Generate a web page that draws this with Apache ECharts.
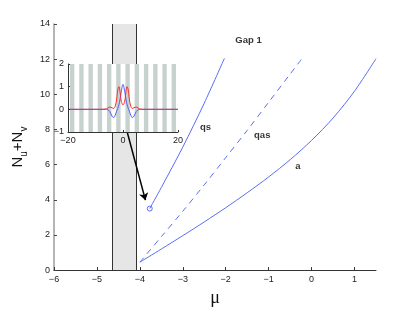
<!DOCTYPE html>
<html>
<head>
<meta charset="utf-8">
<script src="https://cdn.jsdelivr.net/npm/echarts@6/dist/echarts.min.js"></script>
<style>html,body{margin:0;padding:0;background:#fff}#c{width:415px;height:312px}</style>
</head>
<body>
<div id="c"></div>
<script>
// ---- data ----
const xTicks = [-6, -5, -4, -3, -2, -1, 0, 1];
const yTicks = [0, 2, 4, 6, 8, 10, 12, 14];
const qsX = [-3.77, -3.5, -3.0, -2.5, -2.03];
const qsY = [3.5, 4.7, 7.0, 9.5, 12.05];
const qasX = [-4.0, -3.5, -3.0, -2.5, -2.0, -1.5, -1.0, -0.5, -0.22];
const qasY = [0.45, 1.9, 3.35, 4.85, 6.4, 7.95, 9.55, 11.15, 12.05];
const aX = [-4.0, -3.5, -3.0, -2.5, -2.0, -1.5, -1.0, -0.5, 0, 0.5, 1.0, 1.5];
const aY = [0.45, 1.2, 1.96, 2.74, 3.55, 4.4, 5.3, 6.28, 7.38, 8.65, 10.18, 12.03];
const gapBand = [-4.65, -4.08];
const arrowFrom = [-4.3, 7.9];
const arrowTo = [-3.87, 3.98];
const noteText = ['Gap 1', 'qs', 'qas', 'a'];
const noteX = [-1.47, -2.47, -1.15, -0.32];
const noteY = [13.06, 8.13, 7.68, 5.92];
// inset
const insetXTicks = [-20, 0, 20];
const insetYTicks = [-1, 0, 1, 2];
const insetX = [-20, -8, -6.5, -5.5, -4.8, -4, -3.4, -2.8, -2.3, -1.9, -1.5, -1.1, -0.6, 0, 0.6, 1.1, 1.5, 1.9, 2.3, 2.8, 3.4, 4, 4.8, 5.5, 6.5, 8, 20];
const insetRed = [0, 0, 0.01, 0.06, 0.1, 0.07, 0.04, 0.15, 0.45, 0.85, 1.0, 0.8, 0.35, 0.2, 0.35, 0.8, 1.0, 0.85, 0.45, 0.15, 0.04, 0.07, 0.1, 0.06, 0.01, 0, 0];
const insetBlue = [0, 0, 0, -0.02, -0.1, -0.3, -0.36, -0.25, -0.08, 0.05, 0.2, 0.42, 0.8, 1.1, 0.8, 0.42, 0.2, 0.05, -0.08, -0.25, -0.36, -0.3, -0.1, -0.02, 0, 0, 0];
const stripeCenters = [-18.48, -15.12, -11.76, -8.4, -5.04, -1.68, 1.68, 5.04, 8.4, 11.76, 15.12, 18.48];

// ---- chart ----
const stripeHalf = 0.8;
const BLUE = '#5a6ef5';
const minus = v => String(v).replace('-', '\u2212');
const pairs = (xs, ys) => xs.map((x, i) => [x, ys[i]]);
const tickFont = {fontFamily: 'Liberation Sans', fontSize: 9, color: '#222'};

const chart = echarts.init(document.getElementById('c'), null, {renderer: 'canvas'});
chart.setOption({
  animation: false,
  backgroundColor: '#fff',
  grid: [
    {left: 54, top: 24, width: 322, height: 253, show: false},
    {left: 68, top: 64, width: 110, height: 68, show: true, backgroundColor: '#fff', borderWidth: 0, z: 10}
  ],
  xAxis: [
    {
      gridIndex: 0, type: 'value', min: -6, max: 1.5, z: 5,
      axisLine: {show: true, onZero: false, lineStyle: {color: '#333', width: 1}},
      axisTick: {show: true, inside: true, length: 3, lineStyle: {color: '#333'}, customValues: xTicks},
      axisLabel: Object.assign({margin: 5, formatter: minus, customValues: xTicks}, tickFont),
      splitLine: {show: false},
      name: '\u03bc', nameLocation: 'middle', nameGap: 18,
      nameTextStyle: {fontFamily: 'Liberation Serif', fontSize: 18, color: '#111'}
    },
    {
      gridIndex: 1, type: 'value', min: -20, max: 20, interval: 20, z: 14,
      axisLine: {show: true, onZero: false, lineStyle: {color: '#333', width: 1}},
      axisTick: {show: true, inside: true, length: 2, lineStyle: {color: '#333'}},
      axisLabel: Object.assign({margin: 4, formatter: minus}, tickFont),
      splitLine: {show: false}
    }
  ],
  yAxis: [
    {
      gridIndex: 0, type: 'value', min: 0, max: 14, interval: 2, z: 5,
      axisLine: {show: true, onZero: false, lineStyle: {color: '#9c9c9c', width: 1.5}},
      axisTick: {show: true, inside: true, length: 3, lineStyle: {color: '#444'}},
      axisLabel: Object.assign({margin: 4, formatter: minus}, tickFont),
      splitLine: {show: false},
      name: '{n|N}{s|u}{n|+N}{s|v}', nameLocation: 'middle', nameRotate: 90, nameGap: 12,
      nameTextStyle: {
        color: '#111',
        rich: {
          n: {fontFamily: 'Liberation Sans', fontSize: 15, color: '#111', lineHeight: 15, verticalAlign: 'top'},
          s: {fontFamily: 'Liberation Sans', fontSize: 10, color: '#111', lineHeight: 27, verticalAlign: 'middle'}
        }
      }
    },
    {
      gridIndex: 1, type: 'value', min: -1, max: 2, interval: 1, z: 14,
      axisLine: {show: true, onZero: false, lineStyle: {color: '#333', width: 1}},
      axisTick: {show: true, inside: true, length: 2, lineStyle: {color: '#333'}},
      axisLabel: Object.assign({margin: 4, formatter: minus}, tickFont),
      splitLine: {show: false}
    }
  ],
  series: [
    {
      type: 'line', xAxisIndex: 0, yAxisIndex: 0, data: [], z: 2, silent: true,
      markArea: {silent: true, z: 1, itemStyle: {color: '#e6e6e6'}, data: [[{xAxis: gapBand[0]}, {xAxis: gapBand[1]}]]},
      markLine: {silent: true, z: 2, symbol: 'none', label: {show: false},
        lineStyle: {color: '#333', width: 1, type: 'solid'},
        data: [{xAxis: gapBand[0]}, {xAxis: gapBand[1]}]}
    },
    {
      type: 'line', xAxisIndex: 0, yAxisIndex: 0, data: [], z: 3, silent: true,
      markLine: {silent: true, z: 3, symbol: ['none', 'arrow'], symbolSize: 7, label: {show: false},
        lineStyle: {color: '#000', width: 1.5, type: 'solid'},
        data: [[{coord: arrowFrom}, {coord: arrowTo}]]}
    },
    {type: 'line', name: 'qs', xAxisIndex: 0, yAxisIndex: 0, data: pairs(qsX, qsY), smooth: 0.3, showSymbol: false, z: 4,
      lineStyle: {color: BLUE, width: 1}},
    {type: 'line', name: 'qas', xAxisIndex: 0, yAxisIndex: 0, data: pairs(qasX, qasY), smooth: 0.3, showSymbol: false, z: 4,
      lineStyle: {color: BLUE, width: 1, type: [6, 5]}},
    {type: 'line', name: 'a', xAxisIndex: 0, yAxisIndex: 0, data: pairs(aX, aY), smooth: 0.3, showSymbol: false, z: 4,
      lineStyle: {color: BLUE, width: 1}},
    {type: 'scatter', xAxisIndex: 0, yAxisIndex: 0, data: [[qsX[0], qsY[0]]], symbol: 'circle', symbolSize: 5, z: 6,
      itemStyle: {color: 'rgba(255,255,255,0)', borderColor: BLUE, borderWidth: 1, opacity: 1}},
    {type: 'scatter', xAxisIndex: 0, yAxisIndex: 0, symbolSize: 0, z: 6, silent: true,
      data: noteText.map((t, i) => ({value: [noteX[i], noteY[i]], name: t})),
      label: {show: true, position: 'inside', formatter: p => p.name, fontFamily: 'Liberation Sans', fontWeight: 'bold', fontSize: 9.5, color: '#000'}},
    // inset
    {
      type: 'line', xAxisIndex: 1, yAxisIndex: 1, data: [], z: 11, silent: true,
      markArea: {silent: true, z: 11, itemStyle: {color: '#c7d2ce'},
        data: stripeCenters.map(c => [{xAxis: c - stripeHalf}, {xAxis: c + stripeHalf}])}
    },
    {type: 'line', xAxisIndex: 1, yAxisIndex: 1, data: pairs(insetX, insetBlue), smooth: 0.4, showSymbol: false, z: 12,
      lineStyle: {color: '#4d5ff5', width: 1}},
    {type: 'line', xAxisIndex: 1, yAxisIndex: 1, data: pairs(insetX, insetRed), smooth: 0.4, showSymbol: false, z: 13,
      lineStyle: {color: '#ff2a2a', width: 1}}
  ]
});
</script>
</body>
</html>
